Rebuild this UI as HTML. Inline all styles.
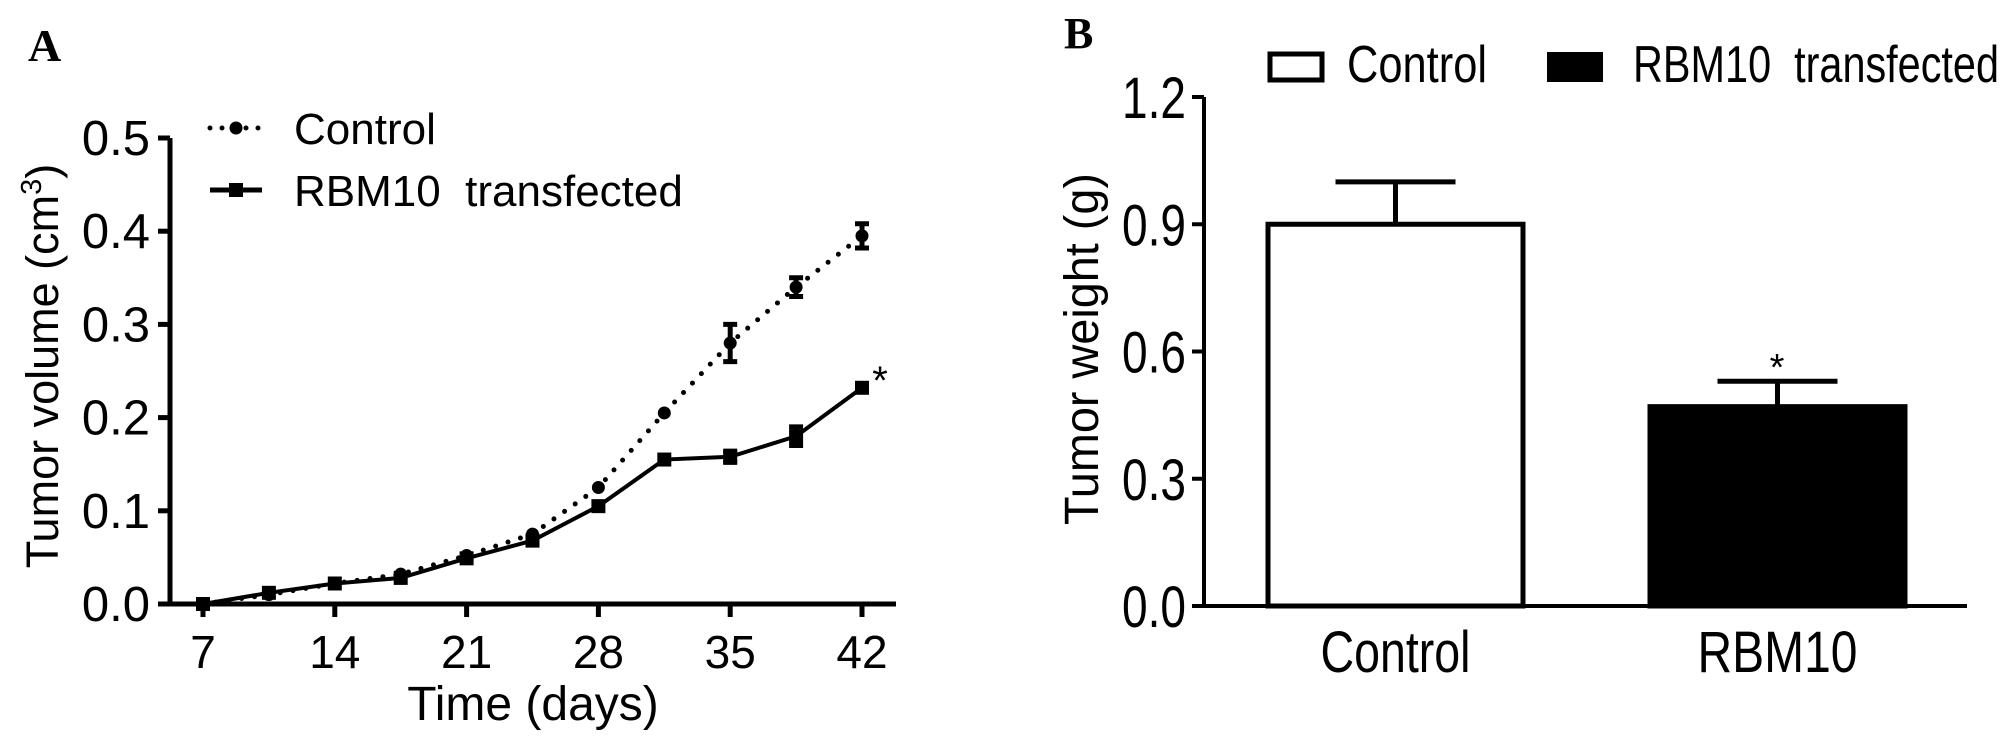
<!DOCTYPE html>
<html><head><meta charset="utf-8"><style>
body{margin:0;background:#fff}
svg{display:block}
text{font-family:"Liberation Sans",sans-serif;fill:#000}
</style></head><body>
<svg width="2008" height="746" viewBox="0 0 2008 746" xmlns="http://www.w3.org/2000/svg">
<g id="A"></g>
<g id="B"></g>
</svg>
<script>
const NS="http://www.w3.org/2000/svg";
// Panel A data
const days=[7,10.5,14,17.5,21,24.5,28,31.5,35,38.5,42];
const controlVol=[0,0.01,0.022,0.032,0.052,0.075,0.125,0.205,0.28,0.34,0.395];
const controlErr=[0,0,0,0,0,0,0,0,0.02,0.01,0.013];
const rbmVol=[0,0.012,0.022,0.028,0.049,0.068,0.105,0.155,0.158,0.18,0.232];
const rbmErr=[0,0,0,0,0,0,0,0,0.006,0.01,0.004];
const xTicksA=[7,14,21,28,35,42];
const yTicksA=[0,0.1,0.2,0.3,0.4,0.5];
// Panel B data
const groupsB=["Control","RBM10"];
const weightB=[0.9,0.47];
const errB=[0.1,0.06];
const yTicksB=[0,0.3,0.6,0.9,1.2];

function el(tag,attrs,parent,txt){const e=document.createElementNS(NS,tag);for(const k in attrs)e.setAttribute(k,attrs[k]);if(txt!==undefined)e.textContent=txt;parent.appendChild(e);return e;}
const A=document.getElementById('A'),B=document.getElementById('B');
const xA=d=>203+(d-7)*(862-203)/35;
const yA=v=>604-v*(604-138)/0.5;
let t=el('text',{x:28,y:61,style:"font-family:'Liberation Serif',serif;font-weight:bold;font-size:46px"},A,'A');

let ax=el('path',{d:`M170 ${yA(0.5)} V604 H896`,stroke:'#000','stroke-width':5,fill:'none'},A);

yTicksA.forEach(v=>{
 let l=el('line',{x1:158,x2:170,y1:yA(v),y2:yA(v),stroke:'#000','stroke-width':5},A);
 
 let tx=el('text',{x:150,y:yA(v)+17,'text-anchor':'end','font-size':49},A,v.toFixed(1));
 
});
xTicksA.forEach(d=>{
 let l=el('line',{x1:xA(d),x2:xA(d),y1:604,y2:617,stroke:'#000','stroke-width':5},A);
 
 let tx=el('text',{x:xA(d),y:668,'text-anchor':'middle','font-size':46},A,String(d));
 
});
t=el('text',{x:533,y:720,'text-anchor':'middle','font-size':48},A,'Time (days)');

t=el('text',{transform:'translate(58,366) rotate(-90)','text-anchor':'middle','font-size':45},A);

t.innerHTML='Tumor volume (cm<tspan dy="-17" font-size="29">3</tspan><tspan dy="17">)</tspan>';
function series(vals,errs,dotted,square,name){
 const g=el('g',{},A);
 
 const d=vals.map((v,i)=>(i?'L':'M')+xA(days[i])+' '+yA(v)).join(' ');
 el('path',{d,fill:'none',stroke:'#000','stroke-width':dotted?5:4,'stroke-dasharray':dotted?'0 13':'none','stroke-linecap':'round'},g);
 vals.forEach((v,i)=>{
  const x=xA(days[i]),y=yA(v);
  if(errs[i]>0){
   const e=el('path',{d:`M${x} ${yA(v+errs[i])} V${yA(v-errs[i])} M${x-7} ${yA(v+errs[i])} H${x+7} M${x-7} ${yA(v-errs[i])} H${x+7}`,stroke:'#000','stroke-width':5},g);
   
  }
  let m=square?el('rect',{x:x-7,y:y-7,width:14,height:14},g):el('circle',{cx:x,cy:y,r:6.5},g);
  
 });
}
series(controlVol,controlErr,true,false,'control-series');
series(rbmVol,rbmErr,false,true,'rbm10-series');
t=el('text',{x:880,y:394,'text-anchor':'middle','font-size':40},A,'*');

let lg=el('g',{},A);
el('path',{d:'M210 128 H259',stroke:'#000','stroke-width':5,'stroke-dasharray':'0 12','stroke-linecap':'round'},lg);
el('circle',{cx:236,cy:128,r:6.5},lg);
el('text',{x:294,y:144,'font-size':44},lg,'Control');
el('path',{d:'M210 190 H262',stroke:'#000','stroke-width':5},lg);
el('rect',{x:229,y:183,width:14,height:14},lg);
el('text',{x:294,y:206,'font-size':44},lg,'RBM10\u00a0 transfected');

// Panel B
const yB=v=>606-v*(606-97)/1.2;
const barX=[1268,1650],barW=255;
t=el('text',{x:1064,y:48,style:"font-family:'Liberation Serif',serif;font-weight:bold;font-size:44px"},B,'B');

yTicksB.forEach(v=>{
 let l=el('line',{x1:1192,x2:1204,y1:yB(v),y2:yB(v),stroke:'#000','stroke-width':4},B);
 
 let tx=el('text',{x:1186,y:yB(v)+21,'text-anchor':'end','font-size':58,textLength:64,lengthAdjust:'spacingAndGlyphs'},B,v.toFixed(1));
 
});
const lblW=[150,160];
groupsB.forEach((g,i)=>{
 const x=barX[i],v=weightB[i],e=errB[i],cx=x+barW/2;
 let er=el('path',{d:`M${cx} ${yB(v)} V${yB(v+e)} M${cx-60} ${yB(v+e)} H${cx+60}`,stroke:'#000','stroke-width':5},B);
 
 let r=el('rect',{x:x,y:yB(v),width:barW,height:yB(0)-yB(v),fill:i?'#000':'#fff',stroke:'#000','stroke-width':5},B);
 
 let tx=el('text',{x:cx,y:672,'text-anchor':'middle','font-size':58,textLength:lblW[i],lengthAdjust:'spacingAndGlyphs'},B,g);
 
});
ax=el('path',{d:`M1204 ${yB(1.2)} V606 H1967`,stroke:'#000','stroke-width':4,fill:'none'},B);

t=el('text',{transform:'translate(1098,349) rotate(-90)','text-anchor':'middle','font-size':48,textLength:352,lengthAdjust:'spacingAndGlyphs'},B,'Tumor weight (g)');

t=el('text',{x:1777,y:380,'text-anchor':'middle','font-size':38},B,'*');

lg=el('g',{},B);
el('rect',{x:1270,y:54,width:52,height:26,fill:'#fff',stroke:'#000','stroke-width':5},lg);
el('text',{x:1347,y:82,'font-size':52,textLength:140,lengthAdjust:'spacingAndGlyphs'},lg,'Control');
el('rect',{x:1547,y:52,width:56,height:30,fill:'#000'},lg);
el('text',{x:1633,y:82,'font-size':52,textLength:366,lengthAdjust:'spacingAndGlyphs'},lg,'RBM10\u00a0 transfected');
</script>
</body></html>
